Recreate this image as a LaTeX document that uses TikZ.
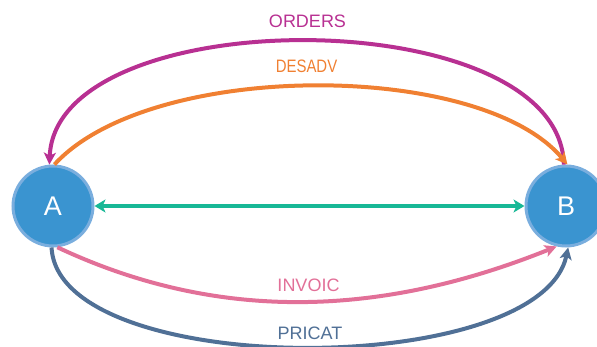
\documentclass[tikz,border=0pt]{standalone}
\usepackage{fontspec}
\setmainfont{Liberation Sans}
\usetikzlibrary{arrows.meta}
\definecolor{cOrd}{RGB}{184,48,146}
\definecolor{cDes}{RGB}{240,128,50}
\definecolor{cInv}{RGB}{226,112,152}
\definecolor{cPri}{RGB}{80,112,150}
\definecolor{cTeal}{RGB}{24,184,150}
\definecolor{cFill}{RGB}{58,148,208}
\definecolor{cRim}{RGB}{122,174,222}
\tikzset{
  circ/.style={circle, minimum size=80pt, inner sep=0pt, fill=cFill, draw=cRim, line width=3pt,
               text=white, font=\fontsize{27}{27}\selectfont},
  link/.style={line width=4pt},
  arr/.style={-{Stealth[length=12pt,width=12pt,inset=3pt]}},
  lbl/.style={font=\fontsize{18}{18}\selectfont, inner sep=2pt}
}
\begin{document}
\begin{tikzpicture}[x=1pt,y=-1pt]
\useasboundingbox (0,0) rectangle (597,347);
\node[circ] (A) at (53,206) {A};
\node[circ] (B) at (566,206) {B};
% teal double arrow
\draw[line width=3.5pt, cTeal, {Stealth[length=11pt,width=13pt,inset=3pt]}-{Stealth[length=11pt,width=13pt,inset=3pt]}] (A.east) -- (B.west);
% ORDERS
\draw[link, cOrd, arr] (B.93) .. controls (560,0) and (56,0) .. (A.95);
% DESADV
\draw[link, cDes, arr] (A.88) .. controls (150,60) and (480,60) .. (B.88);
% INVOIC
\draw[link, cInv, arr] (A.-84) .. controls (212,320) and (374,320) .. (B.-103);
% PRICAT
\draw[link, cPri, arr] (A.-92) .. controls (58,380) and (540,380) .. (B.-87);
% labels
\node[lbl, text=cOrd] (lo) at (307.5,21.7) {ORDERS};
\node[lbl, text=cDes] (ld) at (306.5,66.5) {\scalebox{0.83}[1]{DESADV}};
\node[lbl, text=cInv] (li) at (308.5,285) {INVOIC};
\node[lbl, text=cPri, fill=white, inner xsep=8pt] (lp) at (310,333.5) {PRICAT};
\end{tikzpicture}
\end{document}
